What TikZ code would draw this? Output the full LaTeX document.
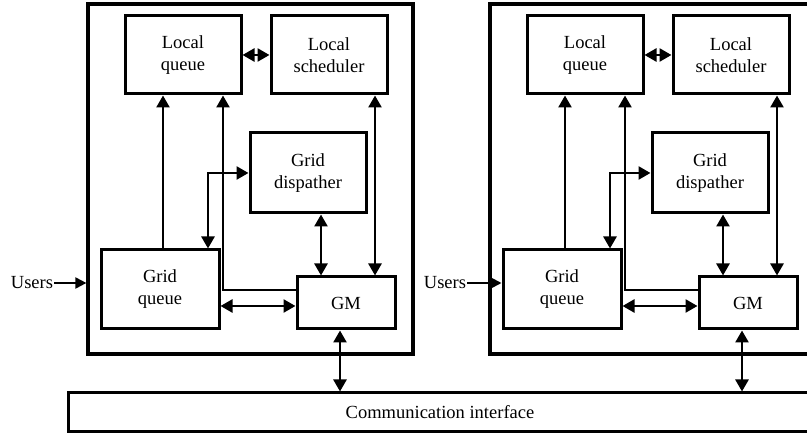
\documentclass[tikz,border=0pt]{standalone}
\usepackage{fontspec}
\setmainfont{Liberation Serif}
\usetikzlibrary{arrows.meta}

\begin{document}
\begin{tikzpicture}[x=1pt,y=1pt,>={Triangle[length=12pt,width=13pt]},line width=2.6pt,
  block/.style={draw,line width=3pt,minimum width=116pt,minimum height=78pt,inner sep=0pt,align=center,font=\fontsize{18.5}{22}\selectfont},
  panel/.style={draw,line width=3.2pt,minimum width=325pt,minimum height=350pt},
  label/.style={inner sep=0pt,font=\fontsize{18.5}{22}\selectfont}]

  \useasboundingbox (0,0) rectangle (807,434);

  \node[draw,line width=3pt,minimum width=744pt,minimum height=39pt,label] (comm) at (440,21.5) {Communication interface};

  \foreach \p/\dx/\ux/\tgt in {a/0/32/a-box, b/402/445/b-gq} {
    \node[panel] (\p-box) at (250.5+\dx,255) {};
    \node[block] (\p-lq) at (183+\dx,379) {Local\\queue};
    \node[block] (\p-ls) at (329+\dx,379) {Local\\scheduler};
    \node[block,minimum height=80pt] (\p-gd) at (308+\dx,261) {Grid\\dispather};
    \node[block,minimum width=118pt,minimum height=79pt] (\p-gq) at (160+\dx,144.5) {Grid\\queue};
    \node[block,minimum width=98pt,minimum height=52pt] (\p-gm) at (346+\dx,131) {GM};
    \node[label] (\p-usr) at (\ux,151) {Users};

    \draw[->,line width=2pt,>={Triangle[length=11pt,width=11pt]}] (\p-usr.east) -- (\p-usr.east -| \tgt.west);
    \draw[->] ([xshift=3pt]\p-gq.north) -- ([xshift=3pt]\p-gq.north |- \p-lq.south);
    \draw[->] ([yshift=13pt]\p-gm.west) -| ([xshift=40pt]\p-lq.south);
    \draw[<->] ([yshift=-3pt]\p-gm.west -| \p-gq.east) -- ([yshift=-3pt]\p-gm.west);
    \draw[<->] ([xshift=48pt]\p-gq.north) |- (\p-gd.west);
    \draw[<->] ([xshift=13pt]\p-gd.south) -- ([xshift=13pt]\p-gd.south |- \p-gm.north);
    \draw[<->] ([xshift=46pt]\p-ls.south) -- ([xshift=46pt]\p-ls.south |- \p-gm.north);
    \draw[<->] (\p-lq.east) -- (\p-ls.west);
    \draw[<->] ([xshift=-6pt]\p-gm.south) -- ([xshift=-6pt]\p-gm.south |- comm.north);
  }
\end{tikzpicture}
\end{document}
